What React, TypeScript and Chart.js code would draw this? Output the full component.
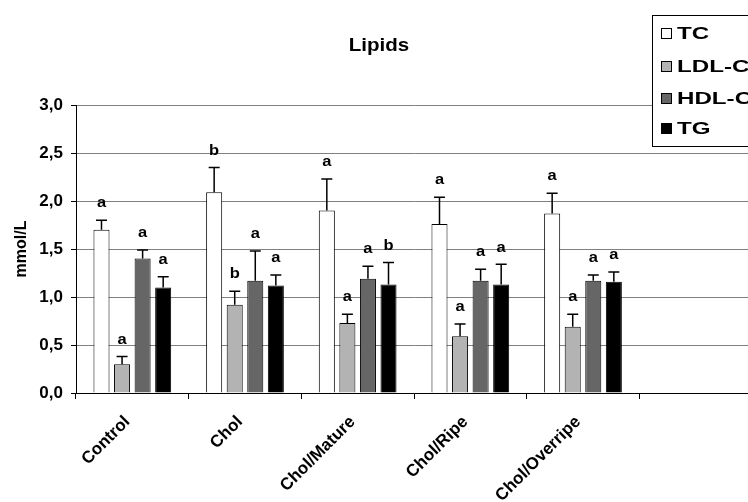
import React, { useEffect, useRef } from "react";
import { Chart, registerables } from "chart.js";

Chart.register(...registerables);

const categories = ["Control", "Chol", "Chol/Mature", "Chol/Ripe", "Chol/Overripe", ""];
const seriesNames = ["TC", "LDL-C", "HDL-C", "TG"];
const tcValues = [1.7, 2.09, 1.9, 1.76, 1.87, null];
const ldlValues = [0.3, 0.92, 0.73, 0.59, 0.69, null];
const hdlValues = [1.4, 1.17, 1.19, 1.17, 1.17, null];
const tgValues = [1.1, 1.12, 1.13, 1.13, 1.16, null];
const tcErrors = [0.1, 0.26, 0.33, 0.28, 0.21];
const ldlErrors = [0.08, 0.14, 0.09, 0.13, 0.13];
const hdlErrors = [0.09, 0.31, 0.13, 0.12, 0.06];
const tgErrors = [0.11, 0.11, 0.23, 0.21, 0.1];
const tcLetters = ["a", "b", "a", "a", "a"];
const ldlLetters = ["a", "b", "a", "a", "a"];
const hdlLetters = ["a", "a", "a", "a", "a"];
const tgLetters = ["a", "a", "b", "a", "a"];
const yTicks = [0, 0.5, 1, 1.5, 2, 2.5, 3];

const FONT = "'Liberation Sans', Arial, sans-serif";
const colors = ["#ffffff", "#b3b3b3", "#666666", "#000000"];

const errorsAll = [tcErrors, ldlErrors, hdlErrors, tgErrors];
const lettersAll = [tcLetters, ldlLetters, hdlLetters, tgLetters];

const errorPlugin = {
  id: "errorBars",
  afterDatasetsDraw(chart: any) {
    const ctx = chart.ctx;
    const yScale = chart.scales.y;
    ctx.save();
    chart.data.datasets.forEach((ds: any, i: number) => {
      const meta = chart.getDatasetMeta(i);
      meta.data.forEach((el: any, j: number) => {
        const v = ds.data[j];
        if (v == null) return;
        const err = errorsAll[i][j];
        const yTop = yScale.getPixelForValue(v + err);
        const yBar = yScale.getPixelForValue(v);
        ctx.strokeStyle = "#000";
        ctx.lineWidth = 1.5;
        ctx.beginPath();
        ctx.moveTo(el.x, yBar);
        ctx.lineTo(el.x, yTop);
        ctx.moveTo(el.x - 5.5, yTop);
        ctx.lineTo(el.x + 5.5, yTop);
        ctx.stroke();
        ctx.fillStyle = "#000";
        ctx.font = `bold 15px ${FONT}`;
        ctx.textAlign = "center";
        ctx.textBaseline = "middle";
        ctx.save();
        ctx.translate(el.x, yTop - 17);
        ctx.scale(1.1, 1);
        ctx.fillText(lettersAll[i][j], 0, 0);
        ctx.restore();
      });
    });
    ctx.restore();
  },
};

const decorPlugin = {
  id: "decor",
  afterDraw(chart: any) {
    const ctx = chart.ctx;
    ctx.save();
    // title
    ctx.fillStyle = "#000";
    ctx.font = `bold 19px ${FONT}`;
    ctx.textAlign = "center";
    ctx.textBaseline = "middle";
    ctx.save();
    ctx.translate(379, 46);
    ctx.scale(1.08, 1);
    ctx.fillText("Lipids", 0, 0);
    ctx.restore();
    // legend
    ctx.fillStyle = "#fff";
    ctx.fillRect(652, 15, 120, 131);
    ctx.strokeStyle = "#000";
    ctx.lineWidth = 1;
    ctx.strokeRect(652.5, 15.5, 120, 131);
    const ys = [33, 66, 98, 128];
    seriesNames.forEach((name, i) => {
      ctx.fillStyle = colors[i];
      ctx.fillRect(661, ys[i] - 5, 11, 11);
      ctx.strokeStyle = "#000";
      ctx.strokeRect(661.5, ys[i] - 4.5, 10, 10);
      ctx.fillStyle = "#000";
      ctx.font = `bold 17px ${FONT}`;
      ctx.textAlign = "left";
      ctx.textBaseline = "middle";
      ctx.save();
      ctx.translate(677, ys[i] + 1);
      ctx.scale(1.42, 1);
      ctx.fillText(name, 0, 0);
      ctx.restore();
    });
    ctx.restore();
  },
};

export default function App() {
  const ref = useRef<HTMLCanvasElement | null>(null);
  useEffect(() => {
    document.body.style.margin = "0";
    const canvas = ref.current!;
    const datasetsData = [tcValues, ldlValues, hdlValues, tgValues];
    const chart = new Chart(canvas, {
      type: "bar",
      data: {
        labels: categories,
        datasets: seriesNames.map((name, i) => ({
          label: name,
          data: datasetsData[i],
          backgroundColor: colors[i],
          borderColor: "#000",
          borderWidth: 1,
          categoryPercentage: 0.73,
          barPercentage: 0.78,
        })),
      },
      options: {
        animation: false,
        responsive: false,
        devicePixelRatio: 1,
        layout: { padding: { top: 105, right: 0, left: 0, bottom: 0 } },
        plugins: { legend: { display: false }, title: { display: false }, tooltip: { enabled: false } },
        scales: {
          x: {
            type: "category",
            offset: true,
            grid: { offset: true, drawOnChartArea: false, drawTicks: true, tickLength: 6, color: "#000", tickColor: "#000" },
            border: { color: "#000", width: 1 },
            ticks: {
              maxRotation: 45,
              minRotation: 45,
              autoSkip: false,
              padding: 13,
              labelOffset: -5,
              color: "#000",
              font: { family: FONT, weight: "bold", size: 17 },
            },
            afterFit(scale: any) {
              scale.height = 109;
            },
          },
          y: {
            min: 0,
            max: 3,
            afterBuildTicks(scale: any) {
              scale.ticks = yTicks.map((v) => ({ value: v }));
            },
            grid: { color: "#808080", lineWidth: 1, tickLength: 5, tickColor: "#000", drawTicks: true },
            border: { color: "#000", width: 1 },
            ticks: {
              padding: 8,
              color: "#000",
              font: { family: FONT, weight: "bold", size: 17 },
              callback: (v: any) => Number(v).toFixed(1).replace(".", ","),
            },
            title: {
              display: true,
              text: "mmol/L",
              color: "#000",
              font: { family: FONT, weight: "bold", size: 16 },
              padding: { top: 12, bottom: 0 },
            },
            afterFit(scale: any) {
              scale.width = 76;
            },
          },
        },
      },
      plugins: [errorPlugin, decorPlugin],
    } as any);
    return () => chart.destroy();
  }, []);
  return (
    <div style={{ position: "absolute", left: 0, top: 0, width: 748, height: 502, overflow: "hidden", background: "#fff" }}>
      <canvas ref={ref} width={752} height={502} style={{ display: "block", width: 752, height: 502 }} />
    </div>
  );
}
